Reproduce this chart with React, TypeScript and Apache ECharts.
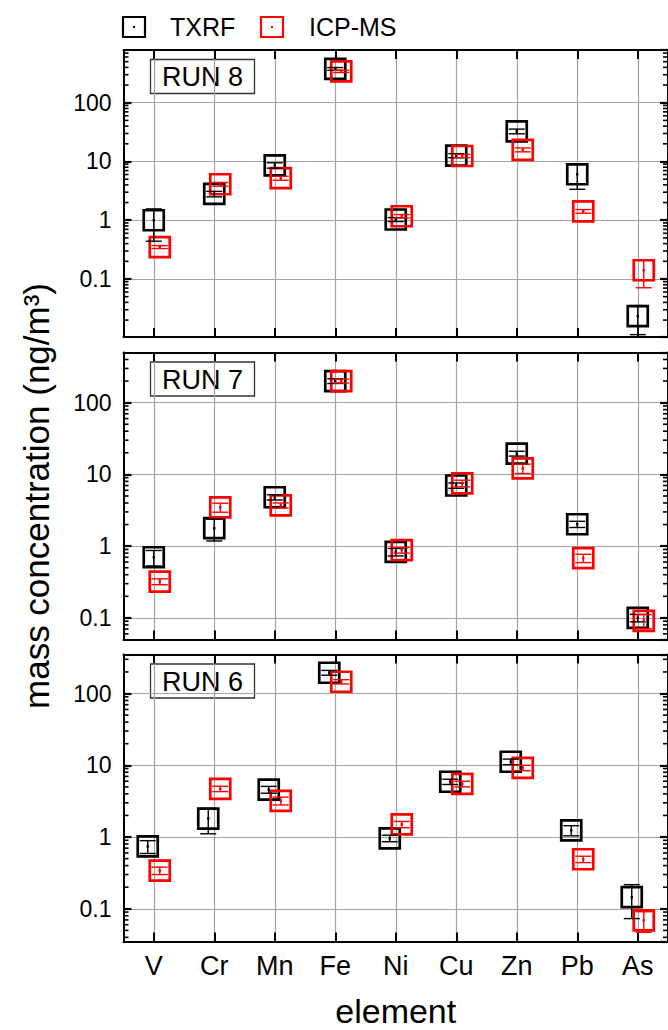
import React, { useEffect, useRef } from 'react';
import * as echarts from 'echarts';

const elements = ['V', 'Cr', 'Mn', 'Fe', 'Ni', 'Cu', 'Zn', 'Pb', 'As'];
const runLabels = ['RUN 8', 'RUN 7', 'RUN 6'];

// RUN 8
const txrf8 = [1.0, 2.8, 8.6, 377, 1.03, 12.6, 32.6, 6.06, 0.0233];
const txrf8Err = [0.56, 0.3, 0.9, 20, 0.08, 1.0, 3.0, 2.7, 0.012];
const icp8 = [0.35, 4.1, 5.2, 342, 1.17, 12.4, 15.8, 1.42, 0.141];
const icp8Err = [0.02, 0.3, 0.4, 15, 0.08, 0.8, 1.2, 0.1, 0.07];
// RUN 7
const txrf7 = [0.7, 1.78, 4.8, 200, 0.83, 7.0, 19.5, 2.02, 0.1];
const txrf7Err = [0.17, 0.6, 0.4, 15, 0.1, 0.6, 1.5, 0.2, 0.012];
const icp7 = [0.32, 3.47, 3.7, 200, 0.88, 7.5, 12.1, 0.68, 0.091];
const icp7Err = [0.03, 0.5, 0.3, 12, 0.08, 0.8, 1.8, 0.09, 0.02];
// RUN 6
const txrf6 = [0.74, 1.81, 4.58, 195, 0.96, 5.9, 11.2, 1.24, 0.145];
const txrf6Err = [0.15, 0.7, 0.5, 15, 0.1, 0.5, 1.0, 0.2, 0.072];
const icp6 = [0.34, 4.7, 3.2, 146, 1.5, 5.5, 9.2, 0.49, 0.069];
const icp6Err = [0.04, 0.4, 0.4, 10, 0.15, 0.5, 0.8, 0.05, 0.022];

const txrfRuns = [txrf8, txrf7, txrf6];
const txrfErrRuns = [txrf8Err, txrf7Err, txrf6Err];
const icpRuns = [icp8, icp7, icp6];
const icpErrRuns = [icp8Err, icp7Err, icp6Err];

const yMins = [0.0103, 0.05, 0.035];
const yMaxs = [790, 500, 350];

const FONT = '"Liberation Sans", Arial, Helvetica, sans-serif';
const GRID_TOPS = [50, 352.5, 654.5];
const GRID_H = 287;
const GRID_LEFT = 123.5;
const GRID_W = 549.5;
const BLACK_OFF = [0, 0, -6];
const RED_OFF = [6, 6, 6];

function minorValues(min: number, max: number) {
  const out: number[][] = [];
  for (let e = -3; e <= 3; e++) {
    for (let m = 2; m <= 9; m++) {
      const v = m * Math.pow(10, e);
      if (v > min && v < max) out.push([0, v]);
    }
  }
  return out;
}

function errorSeries(i: number, name: string, vals: number[], errs: number[], color: string, dx: number) {
  return {
    type: 'custom',
    name,
    xAxisIndex: i * 2,
    yAxisIndex: i * 2,
    z: 4,
    silent: true,
    encode: { x: 0, y: 1 },
    data: vals.map((v, k) => [k, v, errs[k]]),
    renderItem: (params: any, api: any) => {
      const x = api.value(0);
      const v = api.value(1);
      const e = api.value(2);
      const c = api.coord([x, v]);
      const lo = api.coord([x, Math.max(v - e, 1e-6)]);
      const hi = api.coord([x, v + e]);
      const cx = c[0] + dx;
      const st = { stroke: color, lineWidth: 1.4, fill: null };
      return {
        type: 'group',
        children: [
          { type: 'line', shape: { x1: cx, y1: hi[1], x2: cx, y2: lo[1] }, style: st },
          { type: 'line', shape: { x1: cx - 8, y1: hi[1], x2: cx + 8, y2: hi[1] }, style: st },
          { type: 'line', shape: { x1: cx - 8, y1: lo[1], x2: cx + 8, y2: lo[1] }, style: st },
          { type: 'rect', shape: { x: cx - 1.2, y: c[1] - 1.2, width: 2.4, height: 2.4 }, style: { fill: color } },
        ],
      };
    },
  };
}

export default function App() {
  const ref = useRef<HTMLDivElement>(null);

  useEffect(() => {
    if (!ref.current) return;
    const chart = echarts.init(ref.current, null, { renderer: 'svg' });

    const grid: any[] = [];
    const xAxis: any[] = [];
    const yAxis: any[] = [];
    const series: any[] = [];
    const graphic: any[] = [];

    for (let i = 0; i < 3; i++) {
      grid.push({ left: GRID_LEFT, top: GRID_TOPS[i], width: GRID_W, height: GRID_H, containLabel: false });
      const isLast = i === 2;
      xAxis.push({
        type: 'category',
        gridIndex: i,
        data: elements,
        position: 'bottom',
        boundaryGap: true,
        axisLine: { show: true, lineStyle: { color: '#000', width: 2 } },
        axisTick: { show: true, inside: true, alignWithLabel: true, interval: 0, length: 9, lineStyle: { color: '#000', width: 2 } },
        axisLabel: { show: isLast, interval: 0, fontSize: 27, color: '#000', margin: 11, fontFamily: FONT },
        splitLine: { show: true, alignWithLabel: true, interval: 0, lineStyle: { color: '#a3a3a3', width: 1.2 } },
        name: isLast ? 'element' : '',
        nameLocation: 'middle',
        nameGap: 52,
        nameTextStyle: { fontSize: 34, color: '#000', fontFamily: FONT },
      });
      xAxis.push({
        type: 'category',
        gridIndex: i,
        data: elements,
        position: 'top',
        boundaryGap: true,
        axisLine: { show: true, lineStyle: { color: '#000', width: 2 } },
        axisTick: { show: true, inside: true, alignWithLabel: true, interval: 0, length: 9, lineStyle: { color: '#000', width: 2 } },
        axisLabel: { show: false },
        splitLine: { show: false },
      });
      yAxis.push({
        type: 'log',
        logBase: 10,
        gridIndex: i,
        min: yMins[i],
        max: yMaxs[i],
        position: 'left',
        axisLine: { show: true, lineStyle: { color: '#000', width: 2 } },
        axisTick: { show: true, inside: true, length: 8, lineStyle: { color: '#000', width: 2.2 } },
        axisLabel: { fontSize: 23, color: '#000', margin: 12, fontFamily: FONT, showMinLabel: false, showMaxLabel: false },
        splitLine: { show: true, lineStyle: { color: '#a3a3a3', width: 1.2 } },
        name: i === 1 ? 'mass concentration (ng/m³)' : '',
        nameLocation: 'middle',
        nameGap: 70,
        nameTextStyle: { fontSize: 35, color: '#000', fontFamily: FONT },
      });
      yAxis.push({
        type: 'log',
        logBase: 10,
        gridIndex: i,
        min: yMins[i],
        max: yMaxs[i],
        position: 'right',
        axisLine: { show: true, lineStyle: { color: '#000', width: 2 } },
        axisTick: { show: true, inside: true, length: 8, lineStyle: { color: '#000', width: 2.2 } },
        axisLabel: { show: false },
        splitLine: { show: false },
      });

      series.push({
        type: 'custom',
        name: 'minor' + i,
        xAxisIndex: i * 2,
        yAxisIndex: i * 2,
        silent: true,
        z: 5,
        encode: { x: 0, y: 1 },
        data: minorValues(yMins[i], yMaxs[i]),
        renderItem: (params: any, api: any) => {
          const c = api.coord([0, api.value(1)]);
          const cs = params.coordSys;
          const st = { stroke: '#000', lineWidth: 1.6 };
          return {
            type: 'group',
            children: [
              { type: 'line', shape: { x1: cs.x, y1: c[1], x2: cs.x + 5, y2: c[1] }, style: st },
              { type: 'line', shape: { x1: cs.x + cs.width - 5, y1: c[1], x2: cs.x + cs.width, y2: c[1] }, style: st },
            ],
          };
        },
      });

      series.push({
        type: 'scatter',
        name: 'TXRF',
        xAxisIndex: i * 2,
        yAxisIndex: i * 2,
        symbol: 'rect',
        symbolSize: 20,
        symbolOffset: [BLACK_OFF[i], 0],
        z: 3,
        itemStyle: { color: 'rgba(0,0,0,0)', borderColor: '#000', borderWidth: 2.7, opacity: 1 },
        data: txrfRuns[i].map((v, k) => [k, v]),
      });
      series.push({
        type: 'scatter',
        name: 'ICP-MS',
        xAxisIndex: i * 2,
        yAxisIndex: i * 2,
        symbol: 'rect',
        symbolSize: 20,
        symbolOffset: [RED_OFF[i], 0],
        z: 3,
        itemStyle: { color: 'rgba(0,0,0,0)', borderColor: '#ff0000', borderWidth: 2.7, opacity: 1 },
        data: icpRuns[i].map((v, k) => [k, v]),
      });
      series.push(errorSeries(i, 'TXRF', txrfRuns[i], txrfErrRuns[i], '#000', BLACK_OFF[i]));
      series.push(errorSeries(i, 'ICP-MS', icpRuns[i], icpErrRuns[i], '#ff0000', RED_OFF[i]));

      graphic.push({
        type: 'group',
        z: 100,
        children: [
          {
            type: 'rect',
            shape: { x: 150.5, y: GRID_TOPS[i] + 9.5, width: 104, height: 34 },
            style: { fill: '#fff', stroke: '#333', lineWidth: 1.3 },
          },
          {
            type: 'text',
            style: {
              text: runLabels[i],
              x: 202.5,
              y: GRID_TOPS[i] + 27,
              font: '27px ' + FONT,
              fill: '#000',
              align: 'center',
              verticalAlign: 'middle',
              textAlign: 'center',
              textVerticalAlign: 'middle',
            },
          },
        ],
      });
    }

    // legend
    graphic.push({
      type: 'group',
      z: 100,
      children: [
        { type: 'rect', shape: { x: 123, y: 17, width: 22, height: 20 }, style: { fill: 'rgba(0,0,0,0)', stroke: '#000', lineWidth: 2.2 } },
        { type: 'rect', shape: { x: 133, y: 26, width: 2, height: 2 }, style: { fill: '#000' } },
        {
          type: 'text',
          style: { text: 'TXRF', x: 170, y: 27, font: '25px ' + FONT, fill: '#000', verticalAlign: 'middle', textVerticalAlign: 'middle' },
        },
        { type: 'rect', shape: { x: 261, y: 17, width: 22, height: 20 }, style: { fill: 'rgba(0,0,0,0)', stroke: '#ff0000', lineWidth: 2.2 } },
        { type: 'rect', shape: { x: 271, y: 26, width: 2, height: 2 }, style: { fill: '#ff0000' } },
        {
          type: 'text',
          style: { text: 'ICP-MS', x: 309, y: 27, font: '25px ' + FONT, fill: '#000', verticalAlign: 'middle', textVerticalAlign: 'middle' },
        },
      ],
    });

    chart.setOption({
      animation: false,
      backgroundColor: '#fff',
      textStyle: { fontFamily: FONT },
      grid,
      xAxis,
      yAxis,
      series,
      graphic,
    });

    return () => chart.dispose();
  }, []);

  return (
    <div
      ref={ref}
      style={{ position: 'absolute', left: 0, top: 0, width: 668, height: 1030 }}
    />
  );
}
